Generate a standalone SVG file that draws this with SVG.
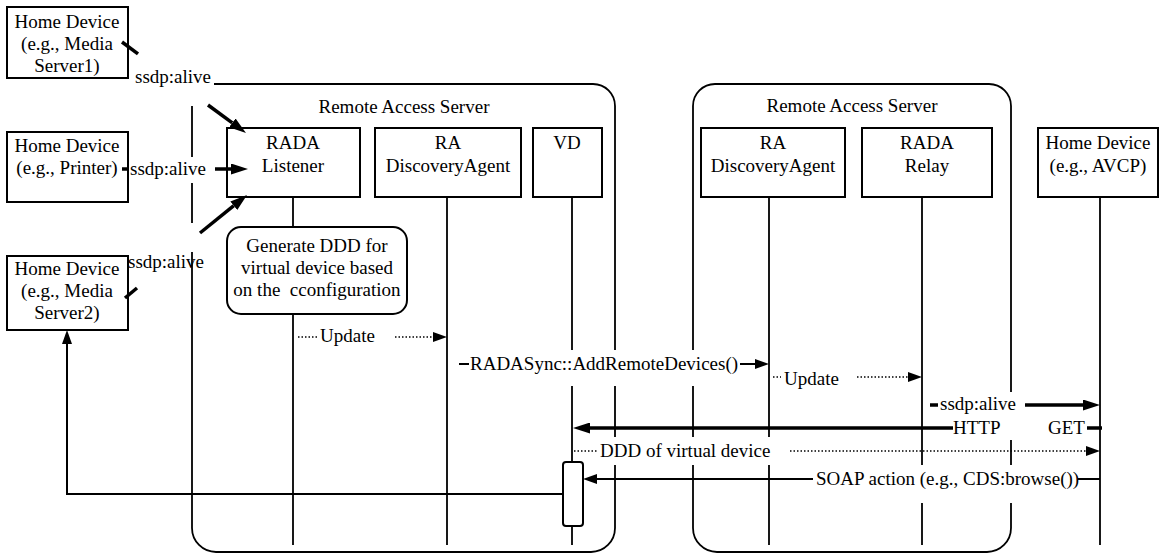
<svg xmlns="http://www.w3.org/2000/svg" width="1160" height="554" viewBox="0 0 1160 554" font-family="Liberation Serif, Times New Roman, serif">
<style>
text{font-size:19px;fill:#000}
.c{text-anchor:middle}
.box{fill:#fff;stroke:#000;stroke-width:2}
.cont{fill:none;stroke:#000;stroke-width:1.8}
.life{stroke:#000;stroke-width:1.8;fill:none}
.thin{stroke:#000;stroke-width:2;fill:none}
.thick{stroke:#000;stroke-width:3.5;fill:none}
.dot{stroke:#000;stroke-width:1.5;stroke-dasharray:1.5 2;fill:none}
.bg{fill:#fff}
</style>
<defs>
<marker id="ah" markerUnits="userSpaceOnUse" markerWidth="14" markerHeight="10" refX="0" refY="5" orient="auto"><path d="M0,0 L14,5 L0,10 z" fill="#000"/></marker>
<marker id="ahB" markerUnits="userSpaceOnUse" markerWidth="17" markerHeight="11" refX="0" refY="5.5" orient="auto"><path d="M0,0 L17,5.5 L0,11 z" fill="#000"/></marker>
</defs>
<rect width="1160" height="554" fill="#fff"/>
<g id="ras1">
<path class="cont" d="M214,84 H593 A22,22 0 0 1 615,106 V528 A24,24 0 0 1 591,552 H216 A24,24 0 0 1 192,528 V252 M192,223 V183 M192,157 V106"/>
<text class="c" x="404" y="113">Remote Access Server</text>
</g>
<g id="ras2">
<path class="cont" d="M715,84 H989 A22,22 0 0 1 1011,106 V528 A24,24 0 0 1 987,552 H717 A24,24 0 0 1 693,528 V106 A22,22 0 0 1 715,84 Z"/>
<text class="c" x="852" y="112">Remote Access Server</text>
</g>
<g id="lifelines">
<path class="life" d="M293,197 V545 M447,197 V545 M572,197 V545 M769,197 V545 M922,197 V545 M1100,197 V545"/>
</g>
<g id="hd1"><rect class="box" x="7" y="7" width="121" height="71"/><text class="c" x="67" y="28">Home Device</text><text class="c" x="67" y="50">(e.g., Media</text><text class="c" x="67" y="72">Server1)</text></g>
<g id="hdprinter"><rect class="box" x="7" y="132" width="121" height="70"/><text class="c" x="67" y="152">Home Device</text><text class="c" x="67" y="174">(e.g., Printer)</text></g>
<g id="hd2"><rect class="box" x="7" y="256" width="121" height="74"/><text class="c" x="67" y="275">Home Device</text><text class="c" x="67" y="297">(e.g., Media</text><text class="c" x="67" y="319">Server2)</text></g>
<g id="listener"><rect class="box" x="227" y="128" width="133" height="69"/><text class="c" x="293" y="149">RADA</text><text class="c" x="293" y="172">Listener</text></g>
<g id="da1"><rect class="box" x="375" y="128" width="146" height="69"/><text class="c" x="448" y="149">RA</text><text class="c" x="448" y="172">DiscoveryAgent</text></g>
<g id="vd"><rect class="box" x="533" y="128" width="69" height="69"/><text class="c" x="567" y="149">VD</text></g>
<g id="da2"><rect class="box" x="701" y="128" width="144" height="69"/><text class="c" x="773" y="149">RA</text><text class="c" x="773" y="172">DiscoveryAgent</text></g>
<g id="relay"><rect class="box" x="862" y="128" width="130" height="69"/><text class="c" x="927" y="149">RADA</text><text class="c" x="927" y="172">Relay</text></g>
<g id="avcp"><rect class="box" x="1038" y="128" width="120" height="69"/><text class="c" x="1098" y="149">Home Device</text><text class="c" x="1098" y="172">(e.g., AVCP)</text></g>
<g id="generate"><rect class="box" x="227" y="227" width="180" height="87" rx="14"/><text class="c" x="317" y="252">Generate DDD for</text><text class="c" x="317" y="274">virtual device based</text><text class="c" x="317" y="296" xml:space="preserve">on the  cconfiguration</text></g>
<g id="activation"><rect class="box" x="563" y="462" width="20" height="64" rx="3"/></g>
<g id="labelbg">
<rect class="bg" x="450" y="350" width="290" height="36"/>
<rect class="bg" x="928" y="392" width="97" height="22"/>
<rect class="bg" x="953" y="414" width="134" height="26"/>
<rect class="bg" x="598" y="437" width="192" height="28"/>
<rect class="bg" x="813" y="465" width="265" height="38"/>
</g>
<g id="connectors">
<path class="thick" d="M122,42 L138,53.8"/>
<path class="thick" d="M208,105 L232.3,122.9" marker-end="url(#ahB)"/>
<path class="thick" d="M122,169 H128"/>
<path class="thick" d="M215,169 H231" marker-end="url(#ahB)"/>
<path class="thick" d="M125,298 L137,288"/>
<path class="thick" d="M200,233 L233.8,205.7" marker-end="url(#ahB)"/>
<path class="dot" d="M298,337 H318"/>
<path class="dot" d="M395,337 H433" marker-end="url(#ah)"/>
<path class="thin" d="M459,364 H469"/>
<path class="thin" d="M740,364 H755" marker-end="url(#ah)"/>
<path class="dot" d="M773,377 H781"/>
<path class="dot" d="M857,377 H908" marker-end="url(#ah)"/>
<path class="thick" d="M930,405 H938"/>
<path class="thick" d="M1025,405 H1083" marker-end="url(#ahB)"/>
<path class="thick" d="M953,428 H590" marker-end="url(#ahB)"/>
<path class="thick" d="M1087,428 H1102"/>
<path class="dot" d="M574,451 H598"/>
<path class="dot" d="M790,451 H1086" marker-end="url(#ah)"/>
<path class="thin" d="M813,479 H597" marker-end="url(#ah)"/>
<path class="thin" d="M1078,479 H1100"/>
<path class="thin" d="M563,494 H67 V344" marker-end="url(#ah)"/>
<text x="135" y="83">ssdp:alive</text>
<text x="130" y="175">ssdp:alive</text>
<text x="128" y="268">ssdp:alive</text>
<text x="320" y="342">Update</text>
<text x="470" y="370">RADASync::AddRemoteDevices()</text>
<text x="784" y="385">Update</text>
<text x="940" y="410">ssdp:alive</text>
<text y="434"><tspan x="953">HTTP</tspan><tspan x="1048">GET</tspan></text>
<text x="600" y="457">DDD of virtual device</text>
<text x="816" y="485">SOAP action (e.g., CDS:browse())</text>
</g>
</svg>
